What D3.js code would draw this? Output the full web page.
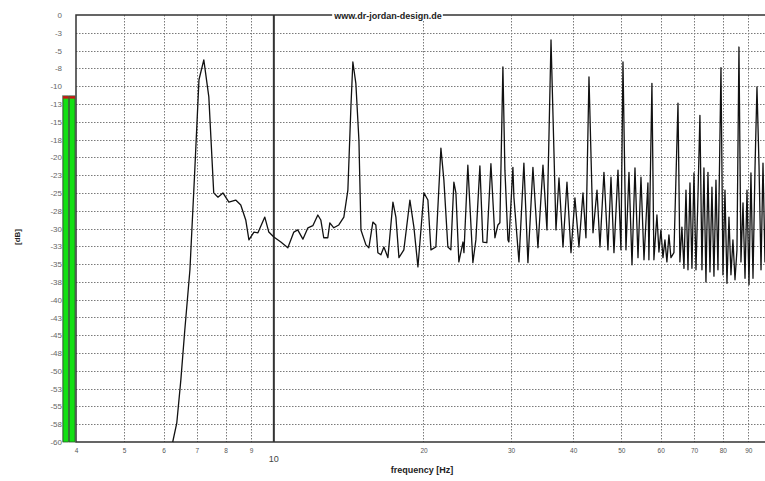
<!DOCTYPE html>
<html>
<head>
<meta charset="utf-8">
<script src="https://cdn.jsdelivr.net/npm/d3@7"></script>
<style>
  body { margin: 0; background: #fff; }
  svg { display: block; font-family: Arial, "Liberation Sans", sans-serif; }
</style>
</head>
<body>
<svg id="chart" width="765" height="481"></svg>
<script>
const freqHz = [6.26,6.38,6.50,6.62,6.78,6.93,7.07,7.23,7.40,7.57,7.72,7.90,8.12,8.38,8.58,8.78,8.91,9.12,9.29,9.59,
  9.77,10.0,10.33,10.67,10.97,11.17,11.44,11.71,11.98,12.26,12.43,12.60,12.84,12.96,13.20,13.51,13.83,14.09,14.29,14.42,
  14.62,14.83,14.97,15.32,15.53,15.82,16.04,16.19,16.42,16.65,16.96,17.36,17.60,17.85,18.26,18.78,19.13,19.49,20.04,20.41,
  20.70,21.18,21.68,21.98,22.39,22.70,23.02,23.24,23.56,24.01,24.12,24.56,25.14,25.49,25.97,26.33,26.82,27.33,27.84,28.23,
  28.49,28.89,29.16,29.57,29.70,30.26,30.40,31.12,31.84,32.44,33.20,33.98,34.78,35.43,36.10,36.60,36.94,37.46,38.16,38.87,
  39.60,40.33,41.09,41.86,42.44,43.04,43.85,44.67,45.29,46.13,46.99,47.66,48.32,49.23,49.91,50.38,51.08,51.80,52.53,53.26,
  54.01,54.76,55.53,56.55,56.81,57.61,
  58.14,58.96,59.51,60.06,60.63,61.19,61.75,62.33,62.91,63.79,65.0,65.58,66.19,66.83,67.45,68.08,68.71,69.34,69.99,70.65,
  71.31,71.95,72.63,73.30,73.99,74.68,75.38,76.07,76.78,77.50,78.22,79.32,80.05,80.80,81.55,82.31,83.07,83.84,84.64,85.42,
  86.21,87.01,87.84,88.66,89.48,90.31,91.13,92.00,92.86,93.71,94.60,95.48,96.36,97.25,98.17];
const levelDb = [-60,-57.3,-51.3,-44.3,-35.8,-22.2,-9.1,-6.3,-11.5,-25.0,-25.6,-25.0,-26.3,-26.0,-26.7,-28.8,-31.6,-30.5,-30.6,-28.4,
  -30.5,-31.2,-31.9,-32.7,-30.5,-30.2,-31.5,-29.9,-29.6,-28.1,-28.8,-31.3,-31.3,-29.2,-29.9,-29.5,-28.4,-24.6,-12.9,-6.6,
  -9.6,-17.6,-30.2,-32.3,-32.7,-29.1,-29.5,-33.4,-33.7,-32.6,-34.1,-26.3,-28.4,-34.1,-33.0,-26.0,-29.8,-35.4,-25.0,-26.0,
  -33.0,-32.6,-18.7,-23.2,-32.6,-33.0,-23.5,-25.0,-34.7,-31.9,-33.4,-21.1,-34.8,-31.6,-21.2,-31.9,-32.0,-20.9,-31.3,-29.5,
  -29.2,-7.3,-21.8,-31.6,-31.9,-21.4,-25.6,-34.7,-20.8,-34.8,-21.4,-32.7,-21.1,-30.2,-3.5,-19.4,-30.2,-22.9,-32.6,-23.5,
  -33.4,-25.7,-32.6,-25.0,-31.3,-8.7,-30.6,-24.6,-32.6,-22.1,-33.0,-22.8,-33.4,-21.8,-33.0,-6.6,-33.0,-22.1,-35.1,-21.5,
  -34.1,-22.8,-34.4,-23.6,-34.4,-9.6,
  -34.4,-28.1,-33.3,-30.2,-34.1,-31.6,-34.7,-30.9,-34.1,-33.4,-12.4,-34.7,-29.8,-35.6,-24.6,-35.8,-23.6,-35.6,-22.2,-35.8,
  -25.3,-14.1,-35.8,-21.5,-37.5,-22.1,-36.1,-24.2,-36.7,-23.2,-35.8,-7.4,-36.5,-24.6,-37.7,-28.4,-36.5,-31.6,-37.2,-33.0,
  -4.5,-34.7,-26.4,-37.0,-24.6,-37.9,-22.2,-37.0,-21.5,-10.1,-21.1,-35.8,-20.8,-34.7,-23.2];

const yTickValues = [0,-2.5,-5,-7.5,-10,-12.5,-15,-17.5,-20,-22.5,-25,-27.5,-30,-32.5,-35,-37.5,-40,-42.5,-45,-47.5,-50,-52.5,-55,-57.5,-60];
const yTickLabels = ["0","-3","-5","-8","-10","-13","-15","-18","-20","-23","-25","-28","-30","-33","-35","-38","-40","-43","-45","-48","-50","-53","-55","-58","-60"];
const xTickValues = [4,5,6,7,8,9,10,20,30,40,50,60,70,80,90,100];
const meterChannels = ["L", "R"];
const meterLevels = [-11.4, -11.4];
const siteLabel = "www.dr-jordan-design.de";

const width = 765, height = 481;
const margin = { top: 15, right: 0, bottom: 39, left: 76 };

const svg = d3.select("#chart");

const x = d3.scaleLog().domain([4, 100]).range([margin.left, 771]);
const y = d3.scaleLinear().domain([-60, 0]).range([height - margin.bottom, margin.top]);

// grid
const grid = svg.append("g").attr("class", "grid")
  .attr("stroke", "#7a7a7a").attr("stroke-width", 1).attr("stroke-dasharray", "1.5,1.5");

grid.selectAll(".hgrid")
  .data(yTickValues.filter(d => d !== 0 && d !== -60))
  .join("line")
  .attr("class", "hgrid")
  .attr("x1", margin.left).attr("x2", width)
  .attr("y1", d => Math.round(y(d)) + 0.5).attr("y2", d => Math.round(y(d)) + 0.5);

grid.selectAll(".vgrid")
  .data(xTickValues.filter(d => d !== 4 && d !== 10))
  .join("line")
  .attr("class", "vgrid")
  .attr("x1", d => Math.round(x(d)) + 0.5).attr("x2", d => Math.round(x(d)) + 0.5)
  .attr("y1", margin.top).attr("y2", height - margin.bottom);

// 10 Hz marker
svg.append("line")
  .attr("x1", x(10)).attr("x2", x(10))
  .attr("y1", margin.top).attr("y2", height - margin.bottom)
  .attr("stroke", "#333").attr("stroke-width", 2);

// frame
svg.append("path")
  .attr("d", `M${width},${margin.top}H${margin.left}V${height - margin.bottom}H${width}`)
  .attr("fill", "none").attr("stroke", "#333").attr("stroke-width", 1.5);

// response curve
const line = d3.line()
  .x((d, i) => x(freqHz[i]))
  .y(d => y(d));

svg.append("path")
  .datum(levelDb)
  .attr("fill", "none")
  .attr("stroke", "#111")
  .attr("stroke-width", 1.3)
  .attr("stroke-linejoin", "round")
  .attr("d", line);

// y axis labels
svg.append("g")
  .attr("transform", `translate(${margin.left},0)`)
  .call(d3.axisLeft(y).tickValues(yTickValues).tickFormat((d, i) => yTickLabels[i]).tickSize(0).tickPadding(14))
  .call(g => g.select(".domain").remove())
  .call(g => g.selectAll("text").attr("fill", "#666").style("font-size", "8px"));

// x axis labels
svg.append("g")
  .attr("transform", `translate(0,${height - margin.bottom})`)
  .call(d3.axisBottom(x).tickValues(xTickValues.filter(d => d !== 10)).tickFormat(d3.format("d")).tickSize(0).tickPadding(6))
  .call(g => g.select(".domain").remove())
  .call(g => g.selectAll("text").attr("fill", "#555").style("font-size", "6.5px"));

svg.append("text")
  .attr("x", x(10)).attr("y", 462)
  .attr("text-anchor", "middle")
  .attr("fill", "#444").style("font-size", "9px")
  .text("10");

svg.append("text")
  .attr("x", 422).attr("y", 473)
  .attr("text-anchor", "middle")
  .attr("fill", "#222").style("font-size", "9px").style("font-weight", "bold")
  .text("frequency [Hz]");

svg.append("text")
  .attr("transform", "translate(20,237) rotate(-90)")
  .attr("text-anchor", "middle")
  .attr("fill", "#222").style("font-size", "8px").style("font-weight", "bold")
  .text("[dB]");

// level meter
const mx = d3.scaleBand().domain(meterChannels).range([63, 75]).paddingInner(0.15);
svg.append("rect")
  .attr("x", 62).attr("y", y(meterLevels[0]) - 1)
  .attr("width", 13).attr("height", y(-60) - y(meterLevels[0]) + 1)
  .attr("fill", "#b5b5b5");
const meter = svg.append("g");
meter.selectAll(".bar")
  .data(meterLevels)
  .join("rect")
  .attr("class", "bar")
  .attr("x", (d, i) => mx(meterChannels[i]))
  .attr("width", mx.bandwidth())
  .attr("y", d => y(d))
  .attr("height", d => y(-60) - y(d))
  .attr("fill", "#12e012").attr("stroke", "#2b5e2b").attr("stroke-width", 0.8);
meter.selectAll(".cap")
  .data(meterLevels)
  .join("rect")
  .attr("class", "cap")
  .attr("x", (d, i) => mx(meterChannels[i]))
  .attr("width", mx.bandwidth())
  .attr("y", d => y(d))
  .attr("height", 2.5)
  .attr("fill", "#c81818");

// site label over the top frame line
const titleBg = svg.append("rect").attr("fill", "#fff");
const title = svg.append("text")
  .attr("x", 388).attr("y", 18.5)
  .attr("text-anchor", "middle")
  .attr("fill", "#222").style("font-size", "9px").style("font-weight", "bold")
  .text(siteLabel);
const bb = title.node().getBBox();
titleBg
  .attr("x", bb.x - 1).attr("y", bb.y).attr("width", bb.width + 2).attr("height", bb.height);
</script>
</body>
</html>
